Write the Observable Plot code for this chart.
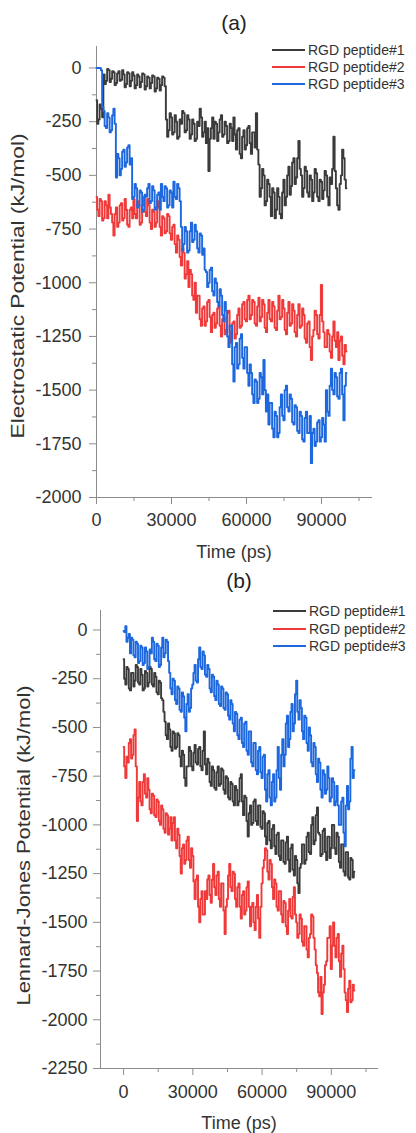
<!DOCTYPE html>
<html><head><meta charset="utf-8">
<script src="https://cdn.jsdelivr.net/npm/d3@7"></script>
<script src="https://cdn.jsdelivr.net/npm/@observablehq/plot@0.6"></script>
<style>
body{margin:0;background:#fff;font-family:"Liberation Sans",Arial,sans-serif;}
#wrap{position:relative;width:416px;height:1133px;overflow:hidden;background:#fff}
.panel{position:absolute;left:0}
.title{position:absolute;font-size:21px;color:#222;transform:translate(-50%,-50%);white-space:nowrap}
.row{position:absolute;white-space:nowrap;font-size:14px;color:#333;display:flex;align-items:center;transform:translateY(-50%)}
.sw{display:inline-block;width:33px;height:2px;margin-right:3px}
</style></head><body><div id="wrap"></div>
<script>
const seriesNames = ["RGD peptide#1", "RGD peptide#2", "RGD peptide#3"];
const seriesColors = ["#3b3b3b", "#f03a3a", "#1d68de"];
const timeStepPs = 500;
const xTicks = [0, 30000, 60000, 90000];
const xMinorTicks = [15000, 45000, 75000, 105000];
const yTicksA = [0, -250, -500, -750, -1000, -1250, -1500, -1750, -2000];
const yMinorA = [-125, -375, -625, -875, -1125, -1375, -1625, -1875];
const yTicksB = [0, -250, -500, -750, -1000, -1250, -1500, -1750, -2000, -2250];
const yMinorB = [-125, -375, -625, -875, -1125, -1375, -1625, -1875, -2125];

// (a) Electrostatic potential, kJ/mol, sampled every 500 ps (0 .. 100000 ps)
const elec1 = [-150, -260, -240, -170, -190, -230,
  -30, -75, -60, -5, -10, -65, -50, -15, -20, -80, -70, -25, -15, -60, -55, -10, -30, -90, -75, -20, -25, -85, -60, -20,
  -35, -95, -80, -30, -40, -90, -65, -25, -30, -100, -85, -40, -45, -95, -70, -35, -40, -110, -95, -45, -50, -105, -80, -40, -45, -85,
  -240, -320,
  -290, -210, -230, -310, -300, -220, -250, -330, -320, -240, -260, -200, -210, -300, -290, -220, -240, -330, -310, -240,
  -260, -340, -330, -250, -270, -190, -230, -320, -300, -250, -350, -280, -480, -330, -280, -230, -330, -250, -260, -340,
  -300, -240, -220, -320, -310, -250, -270, -350, -340, -260, -280, -340, -230, -310, -380, -290, -280, -400, -420, -320,
  -290, -380, -360, -280, -270, -350, -400, -300, -300, -370, -210, -380,
  -450, -600, -560, -470, -500, -640, -620, -520, -540, -600, -690, -560, -580, -700, -660, -560, -600, -680, -700, -580,
  -520, -640, -600, -500, -460, -590, -550, -440, -420, -540, -510, -420, -340, -470, -500, -600, -560, -460, -480, -580,
  -600, -500, -520, -620, -580, -470, -490, -600, -620, -520, -530, -610, -570, -480, -500, -600, -640, -510, -540, -470,
  -320, -480, -560, -640, -660, -540, -500, -380, -420, -520, -560];
const elec2 = [
  -600, -660, -690, -610, -620, -710, -700, -620, -640, -700, -590, -650, -680, -720, -780, -680, -650, -740, -720, -640,
  -630, -710, -700, -610, -660, -730, -740, -660, -650, -700, -610, -680, -700, -620, -640, -730, -720, -640, -600, -670,
  -690, -610, -640, -720, -750, -660, -670, -740, -720, -620, -650, -740, -780, -690, -700, -770, -760, -680, -690, -770,
  -800, -740, -730, -820, -860, -780, -800, -880, -920, -840, -860, -980, -960, -900, -1020, -940, -960, -1060, -1080, -1000,
  -1140, -1060, -1060, -1170, -1200, -1120, -1110, -1200, -1180, -1090, -1080, -1160, -1230, -1150, -1140, -1210, -1190, -1120, -1110, -1200,
  -1250, -1170, -1160, -1240, -1220, -1140, -1130, -1230, -1280, -1190, -1180, -1260, -1240, -1150, -1120, -1210, -1200, -1100, -1090, -1170,
  -1180, -1080, -1060, -1170, -1150, -1080, -1090, -1190, -1200, -1110, -1070, -1180, -1160, -1080, -1100, -1210, -1230, -1140, -1080, -1170,
  -1180, -1090, -1110, -1210, -1220, -1130, -1060, -1170, -1160, -1080, -1120, -1220, -1240, -1140, -1090, -1200, -1190, -1100, -1130, -1230,
  -1250, -1150, -1100, -1210, -1200, -1120, -1150, -1260, -1280, -1190, -1180, -1300, -1360, -1250, -1220, -1130, -1150, -1240, -1260, -1150,
  -1010, -1180, -1230, -1300, -1300, -1220, -1240, -1320, -1350, -1250, -1180, -1270, -1300, -1230, -1360, -1270, -1250, -1340, -1380, -1290,
  -1320];
const elec3 = [
  0, 0, 0, 0, -10, -180, -200, -270, -280, -210, -230, -300, -290, -220, -190, -260, -510, -400, -420, -500,
  -470, -390, -380, -460, -440, -370, -360, -450, -420, -610, -600, -540, -560, -650, -640, -570, -580, -670, -660, -590,
  -600, -560, -540, -630, -620, -550, -570, -660, -650, -590, -580, -660, -540, -600, -620, -550, -560, -650, -640, -570,
  -580, -650, -530, -600, -610, -540, -560, -620, -740, -850, -820, -740, -760, -860, -850, -760, -720, -810, -800, -730,
  -760, -840, -860, -770, -780, -870, -840, -940, -950, -1020, -1000, -940, -930, -1040, -1060, -980, -1000, -1090, -1110, -1030,
  -1060, -1150, -1180, -1090, -1130, -1250, -1300, -1200, -1200, -1380, -1460, -1300, -1280, -1400, -1380, -1260, -1240, -1350, -1400, -1300,
  -1300, -1420, -1480, -1380, -1420, -1520, -1560, -1450, -1460, -1560, -1540, -1420, -1440, -1520, -1360, -1500, -1600, -1520, -1660, -1560,
  -1560, -1680, -1720, -1600, -1620, -1720, -1700, -1580, -1520, -1620, -1640, -1500, -1480, -1580, -1600, -1520, -1540, -1650, -1660, -1570,
  -1580, -1690, -1700, -1600, -1620, -1730, -1740, -1630, -1600, -1700, -1700, -1620, -1840, -1700, -1680, -1760, -1740, -1650, -1640, -1740,
  -1720, -1630, -1660, -1740, -1500, -1600, -1620, -1480, -1400, -1500, -1520, -1420, -1440, -1530, -1540, -1420, -1400, -1520, -1640, -1480,
  -1420];

// (b) Lennard-Jones potential, kJ/mol, sampled every 500 ps (0 .. 100000 ps)
const lj1 = [
  -150, -250, -280, -190, -200, -300, -310, -220, -220, -290, -260, -180, -190, -270, -280, -200, -230, -310, -300, -210,
  -220, -290, -270, -190, -200, -280, -290, -220, -240, -320, -330, -260, -270, -350, -360, -420, -470, -540, -560, -480,
  -510, -600, -620, -520, -530, -610, -600, -530, -540, -650, -700, -620, -640, -760, -800, -700, -700, -600, -620, -700,
  -720, -630, -590, -680, -690, -610, -600, -700, -720, -620, -520, -690, -740, -660, -680, -780, -800, -700, -720, -810,
  -820, -730, -700, -800, -790, -710, -720, -820, -840, -750, -760, -860, -870, -780, -790, -880, -900, -800, -820, -900,
  -880, -760, -740, -880, -950, -850, -860, -980, -1060, -940, -900, -1000, -990, -880, -870, -980, -1000, -900, -900, -1010,
  -1020, -930, -940, -1060, -1100, -990, -980, -1080, -1120, -1020, -1000, -1110, -1150, -1050, -1040, -1160, -1180, -1080, -1080, -1190,
  -1200, -1090, -1060, -1180, -1240, -1120, -1100, -1230, -1260, -1160, -1180, -1300, -1350, -1220, -1200, -1100, -1100, -1200, -1180, -1060,
  -1040, -1140, -1150, -1000, -960, -1100, -1080, -950, -910, -1040, -1050, -1160, -1150, -1030, -1020, -1140, -1180, -1060, -1060, -1170,
  -1120, -1000, -1000, -1120, -1150, -1040, -1060, -1190, -1220, -1100, -1100, -1240, -1260, -1140, -1140, -1270, -1280, -1170, -1180, -1270,
  -1240];
const lj2 = [
  -600, -700, -760, -650, -680, -580, -560, -660, -640, -540, -510, -700, -980, -860, -780, -880, -900, -780, -740, -840,
  -860, -760, -820, -920, -940, -840, -850, -950, -960, -870, -880, -980, -1000, -900, -920, -1020, -1040, -940, -950, -1050,
  -1020, -960, -1080, -990, -960, -1080, -1120, -1020, -1050, -1160, -1250, -1120, -1100, -1200, -1180, -1080, -1060, -1180, -1220, -1120,
  -1160, -1290, -1380, -1280, -1260, -1420, -1500, -1380, -1340, -1460, -1460, -1340, -1380, -1280, -1260, -1360, -1400, -1280, -1200, -1320,
  -1360, -1260, -1240, -1380, -1420, -1300, -1300, -1440, -1560, -1420, -1380, -1260, -1200, -1320, -1340, -1240, -1250, -1380, -1420, -1320,
  -1300, -1420, -1480, -1360, -1340, -1460, -1440, -1320, -1290, -1420, -1520, -1420, -1400, -1500, -1540, -1420, -1360, -1480, -1580, -1420,
  -1300, -1220, -1180, -1120, -1130, -1240, -1280, -1180, -1200, -1320, -1380, -1280, -1300, -1420, -1440, -1340, -1340, -1460, -1500, -1390,
  -1400, -1520, -1560, -1440, -1380, -1470, -1480, -1370, -1320, -1460, -1500, -1580, -1560, -1460, -1480, -1600, -1620, -1520, -1520, -1640,
  -1680, -1580, -1560, -1460, -1470, -1580, -1640, -1720, -1760, -1860, -1880, -1780, -1970, -1860, -1820, -1720, -1700, -1580, -1580, -1520,
  -1740, -1620, -1500, -1620, -1680, -1580, -1560, -1700, -1780, -1660, -1620, -1740, -1860, -1900, -1960, -1840, -1800, -1910, -1900, -1820,
  -1850];
const lj3 = [
  -5, -10, 20, -60, -40, -20, -120, -40, -50, -130, -140, -60, -70, -170, -160, -80, -90, -180, -170, -90,
  -110, -200, -190, -100, -120, -40, -60, -150, -160, -70, -80, -190, -180, -90, -40, -140, -120, -50, -60, -160,
  -220, -300, -330, -250, -260, -360, -380, -290, -300, -410, -420, -320, -340, -450, -520, -380, -330, -420, -400, -300,
  -280, -220, -180, -260, -270, -150, -90, -190, -200, -110, -130, -230, -240, -180, -200, -300, -320, -230, -240, -340,
  -360, -260, -280, -380, -390, -290, -300, -400, -410, -320, -330, -440, -460, -360, -380, -480, -520, -420, -430, -540,
  -560, -460, -450, -580, -600, -480, -470, -620, -640, -520, -520, -680, -700, -580, -580, -720, -740, -620, -600, -730,
  -760, -650, -640, -820, -880, -740, -720, -860, -900, -780, -740, -880, -860, -720, -600, -760, -820, -640, -560, -700,
  -640, -480, -440, -600, -560, -420, -380, -520, -480, -330, -260, -420, -460, -360, -400, -520, -560, -440, -450, -580,
  -620, -500, -540, -680, -700, -580, -600, -740, -780, -660, -680, -820, -860, -720, -740, -840, -820, -700, -760, -880,
  -860, -760, -780, -900, -880, -800, -900, -1000, -1000, -880, -860, -1040, -1110, -900, -800, -920, -880, -660, -600, -760,
  -720];

function rows(seriesArrays) {
  const out = [];
  seriesArrays.forEach((arr, k) => arr.forEach((v, i) => out.push({series: seriesNames[k], t: i * timeStepPs, v})));
  return out;
}
const dataA = rows([elec1, elec2, elec3]);
const dataB = rows([lj1, lj2, lj3]);

const font = "'Liberation Sans', Arial, sans-serif";
const axisGray = "#8c8c8c";
const fmt = d => String(d);

function panel(cfg) {
  const svg = Plot.plot({
    width: 416, height: cfg.height,
    marginLeft: cfg.ml, marginRight: cfg.mr, marginTop: cfg.mt, marginBottom: cfg.mb,
    style: {fontFamily: font, fontSize: "18px", color: "#333", background: "transparent", overflow: "visible"},
    x: {domain: cfg.xDomain},
    y: {domain: cfg.yDomain},
    color: {domain: seriesNames, range: seriesColors},
    marks: [
      Plot.frame({anchor: "left", stroke: axisGray}),
      Plot.frame({anchor: "bottom", stroke: axisGray}),
      Plot.axisY({ticks: cfg.yTicks, tickSize: 7, tickPadding: cfg.yPad, tickFormat: fmt, fontSize: 18, stroke: axisGray,
        label: cfg.yLabel, labelAnchor: "center", labelArrow: "none", labelOffset: cfg.yLabelOffset}),
      Plot.axisY({ticks: cfg.yMinor, tickSize: 4, tickFormat: () => "", stroke: axisGray, label: null}),
      Plot.axisX({ticks: xTicks, tickSize: 7, tickPadding: cfg.xPad, tickFormat: fmt, fontSize: 18, stroke: axisGray,
        label: "Time (ps)", labelAnchor: "center", labelArrow: "none", labelOffset: cfg.xLabelOffset}),
      Plot.axisX({ticks: xMinorTicks, tickSize: 4, tickFormat: () => "", stroke: axisGray, label: null}),
      Plot.line(cfg.data, {x: "t", y: "v", z: "series", stroke: "series", strokeWidth: 1.9, curve: "step"})
    ]
  });
  // stretch the rotated y-axis title along its length, as in the original figure
  const lab = svg.querySelector('g[aria-label="y-axis label"] text');
  if (lab) {
    lab.setAttribute("textLength", cfg.yLabelLength);
    lab.setAttribute("lengthAdjust", "spacingAndGlyphs");
    lab.setAttribute("x", cfg.yLabelShift);
  }
  return svg;
}

const wrap = document.getElementById("wrap");
function place(el, top) { el.classList.add("panel"); el.style.top = top + "px"; wrap.appendChild(el); }

place(panel({height: 565, ml: 96, mr: 45, mt: 46, mb: 68, xDomain: [0, 110000], yDomain: [-2000, 100],
  yTicks: yTicksA, yMinor: yMinorA, yPad: 8, xPad: 9, data: dataA,
  yLabel: "Electrostatic Potential (kJ/mol)", yLabelOffset: 85, xLabelOffset: 60, yLabelLength: 305, yLabelShift: -14}), 0);
place(panel({height: 568, ml: 100, mr: 39, mt: 45, mb: 65, xDomain: [-10000, 110000], yDomain: [-2250, 100],
  yTicks: yTicksB, yMinor: yMinorB, yPad: 6, xPad: 10, data: dataB,
  yLabel: "Lennard-Jones Potential (kJ/mol)", yLabelOffset: 83, xLabelOffset: 60, yLabelLength: 320, yLabelShift: -6}), 565);

function addTitle(text, x, y) {
  const d = document.createElement("div"); d.className = "title"; d.textContent = text;
  d.style.left = x + "px"; d.style.top = y + "px"; wrap.appendChild(d);
}
function addLegend(x, ys) {
  seriesNames.forEach((name, i) => {
    const r = document.createElement("div"); r.className = "row";
    r.style.left = x + "px"; r.style.top = ys[i] + "px";
    const s = document.createElement("span"); s.className = "sw"; s.style.background = seriesColors[i];
    r.appendChild(s); r.appendChild(document.createTextNode(name)); wrap.appendChild(r);
  });
}
addTitle("(a)", 234, 23);
addTitle("(b)", 239, 581);
addLegend(272, [50, 67, 84]);
addLegend(273, [611, 629, 646]);
</script></body></html>
